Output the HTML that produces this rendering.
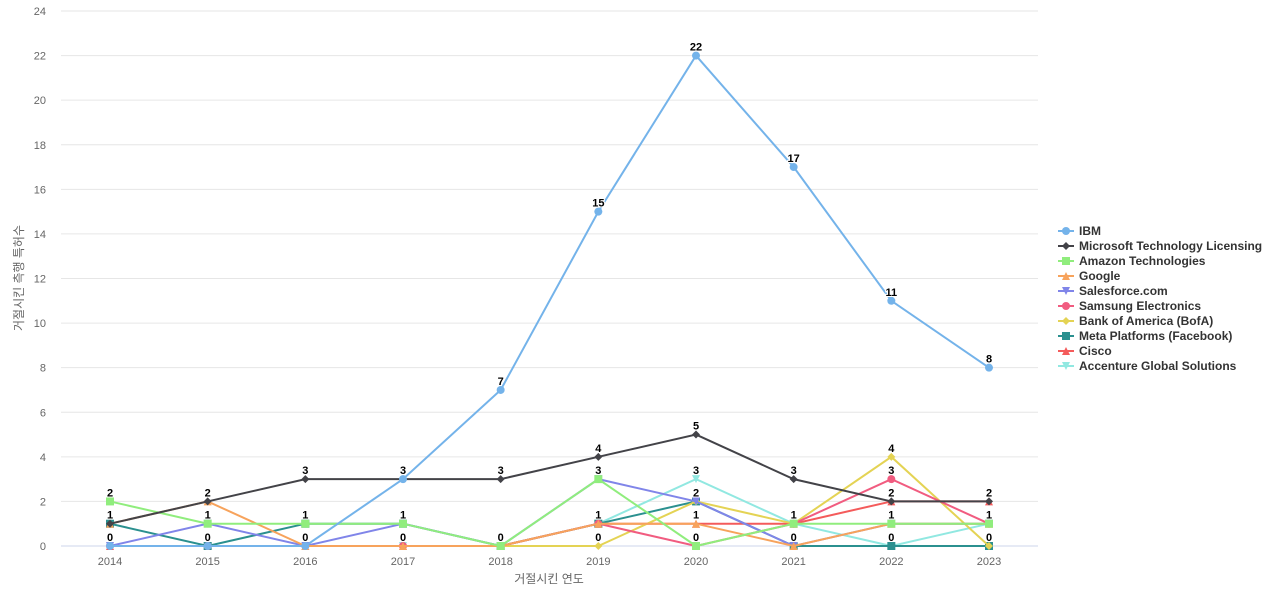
<!DOCTYPE html>
<html><head><meta charset="utf-8"><style>
body{margin:0;background:#fff;font-family:"Liberation Sans","Noto Sans CJK KR",sans-serif}
svg text{font-family:"Liberation Sans","Noto Sans CJK KR",sans-serif}
</style></head><body>
<svg id="c" width="1280" height="600"></svg>
<script>
const years=[2014,2015,2016,2017,2018,2019,2020,2021,2022,2023];
const yTicks=[0,2,4,6,8,10,12,14,16,18,20,22,24];
const seriesNames=["IBM","Microsoft Technology Licensing","Amazon Technologies","Google","Salesforce.com","Samsung Electronics","Bank of America (BofA)","Meta Platforms (Facebook)","Cisco","Accenture Global Solutions"];
const ibm=[0,0,0,3,7,15,22,17,11,8];
const microsoft=[1,2,3,3,3,4,5,3,2,2];
const amazon=[2,1,1,1,0,3,0,1,1,1];
const google=[1,2,0,0,0,1,1,0,1,1];
const salesforce=[0,1,0,1,0,3,2,0,1,1];
const samsung=[0,0,0,0,0,1,0,1,3,1];
const bofa=[0,0,0,0,0,0,2,1,4,0];
const meta=[1,0,1,1,0,1,2,0,0,0];
const cisco=[0,0,0,0,0,1,1,1,2,2];
const accenture=[0,0,0,0,0,1,3,1,0,1];
const allSeries=[ibm,microsoft,amazon,google,salesforce,samsung,bofa,meta,cisco,accenture];
const colors=["#74b3ea","#434348","#90ed7d","#f7a35c","#8085e9","#f15c80","#e4d354","#2b908f","#f45b5b","#91e8e1"];
const shapes=["circle","diamond","square","triangle","tdown","circle","diamond","square","triangle","tdown"];
const NS="http://www.w3.org/2000/svg";
const svg=document.getElementById('c');
const X0=110,X1=989,Y0=546,Y1=11;
const xs=i=>X0+(X1-X0)*i/(years.length-1);
const ys=v=>Y0-(Y0-Y1)*v/24;
function el(t,a,p){const e=document.createElementNS(NS,t);for(const k in a)e.setAttribute(k,a[k]);(p||svg).appendChild(e);return e;}
function marker(s,x,y,c,r,p){
 if(s==="circle")return el('circle',{cx:x,cy:y,r:r,fill:c},p);
 if(s==="square")return el('rect',{x:x-r,y:y-r,width:2*r,height:2*r,fill:c},p);
 if(s==="diamond")return el('path',{d:`M${x} ${y-r}L${x+r} ${y}L${x} ${y+r}L${x-r} ${y}Z`,fill:c},p);
 if(s==="triangle")return el('path',{d:`M${x} ${y-r}L${x+r} ${y+r}L${x-r} ${y+r}Z`,fill:c},p);
 return el('path',{d:`M${x-r} ${y-r}L${x+r} ${y-r}L${x} ${y+r}Z`,fill:c},p);
}
const grid=el('g',{});

yTicks.forEach(v=>{
 el('line',{x1:61,x2:1038,y1:ys(v),y2:ys(v),stroke:v===0?'#ccd6eb':'#e6e6e6','stroke-width':1},grid);
 const t=el('text',{x:46,y:ys(v)+4,'text-anchor':'end','font-size':11,fill:'#666'},grid);t.textContent=v;
 
});
years.forEach((yr,i)=>{const t=el('text',{x:xs(i),y:565,'text-anchor':'middle','font-size':11,fill:'#666'});t.textContent=yr;
 });
let t=el('text',{x:549,y:583,'text-anchor':'middle','font-size':12,fill:'#666'});t.textContent='거절시킨 연도';

t=el('text',{x:23,y:278,'text-anchor':'middle','font-size':12,fill:'#666',transform:'rotate(-90 23 278)'});t.textContent='거절시킨 측행 특허수';

for(let s=allSeries.length-1;s>=0;s--){
 const d=allSeries[s];
 const g=el('g',{});
 el('path',{d:d.map((v,i)=>(i?'L':'M')+xs(i)+' '+ys(v)).join(''),fill:'none',stroke:colors[s],'stroke-width':2},g);
 d.forEach((v,i)=>{const m=marker(shapes[s],xs(i),ys(v),colors[s],4,g);});
}
years.forEach((yr,i)=>{
 const vals=[...new Set(allSeries.map(d=>d[i]))];
 vals.forEach(v=>{const t=el('text',{x:xs(i),y:ys(v)-5,'text-anchor':'middle','font-size':11,'font-weight':'bold',fill:'#000',stroke:'#fff','stroke-width':2,'paint-order':'stroke'});t.textContent=v;
 });
});
const lg=el('g',{});
seriesNames.forEach((n,s)=>{
 const y=231+s*15;
 const g=el('g',{},lg);
 el('line',{x1:1058,x2:1074,y1:y,y2:y,stroke:colors[s],'stroke-width':2},g);
 marker(shapes[s],1066,y,colors[s],4,g);
 const t=el('text',{x:1079,y:y+4,'font-size':12,'font-weight':'bold',fill:'#333'},g);t.textContent=n;
});
</script>
</body></html>
